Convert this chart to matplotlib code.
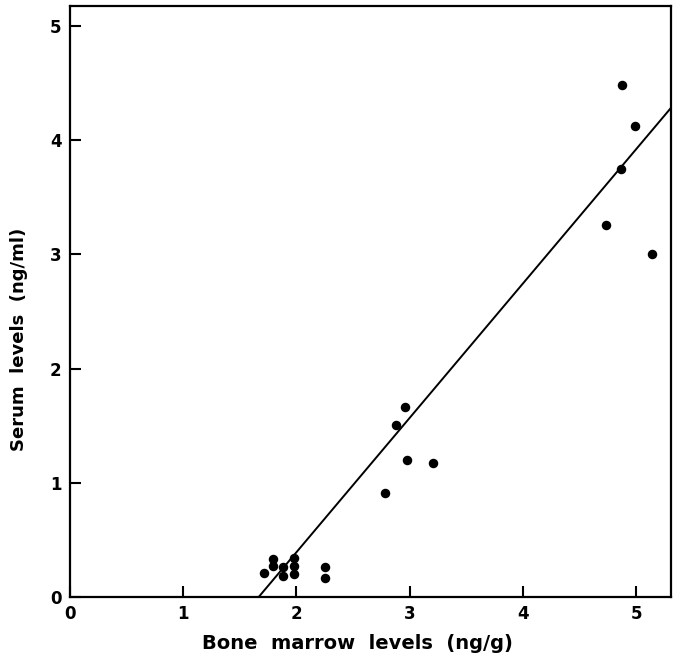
import matplotlib
matplotlib.use('Agg')
import matplotlib.pyplot as plt
import numpy as np

# bone marrow (ng/g) vs serum (ng/ml)
marrow = [1.71, 1.79, 1.79, 1.88, 1.88, 1.98, 1.98, 1.98, 2.25, 2.25,
          2.78, 2.88, 2.96, 2.98, 3.21,
          4.73, 4.87, 4.88, 4.99, 5.14]
serum = [0.21, 0.33, 0.27, 0.26, 0.18, 0.34, 0.27, 0.20, 0.26, 0.17,
         0.91, 1.51, 1.66, 1.20, 1.17,
         3.26, 3.75, 4.48, 4.12, 3.00]

# regression line
slope = 1.176
intercept = -1.96

ticks = [0, 1, 2, 3, 4, 5]

fig = plt.figure(figsize=(6.8, 6.6), dpi=100)
ax = fig.add_axes([0.103, 0.0955, 0.884, 0.8955])

ax.scatter(marrow, serum, s=34, color='black', zorder=3)

x0 = -intercept / slope
xl = np.array([x0, 5.6])
ax.plot(xl, slope * xl + intercept, color='black', lw=1.4)

ax.set_xlim(0, 5.31)
ax.set_ylim(0, 5.175)
ax.set_xticks(ticks)
ax.set_yticks(ticks)
ax.tick_params(direction='in', length=8, width=1.5, labelsize=12, pad=6)
for lab in ax.get_xticklabels() + ax.get_yticklabels():
    lab.set_fontweight('bold')
for sp in ax.spines.values():
    sp.set_linewidth(1.6)

ax.set_xlabel('Bone  marrow  levels  (ng/g)', fontsize=14, fontweight='bold')
ax.xaxis.set_label_coords(0.478, -0.062)
ax.set_ylabel('Serum  levels  (ng/ml)', fontsize=13, fontweight='bold')
ax.yaxis.set_label_coords(-0.07, 0.435)

fig.savefig('out.png', dpi=100)
